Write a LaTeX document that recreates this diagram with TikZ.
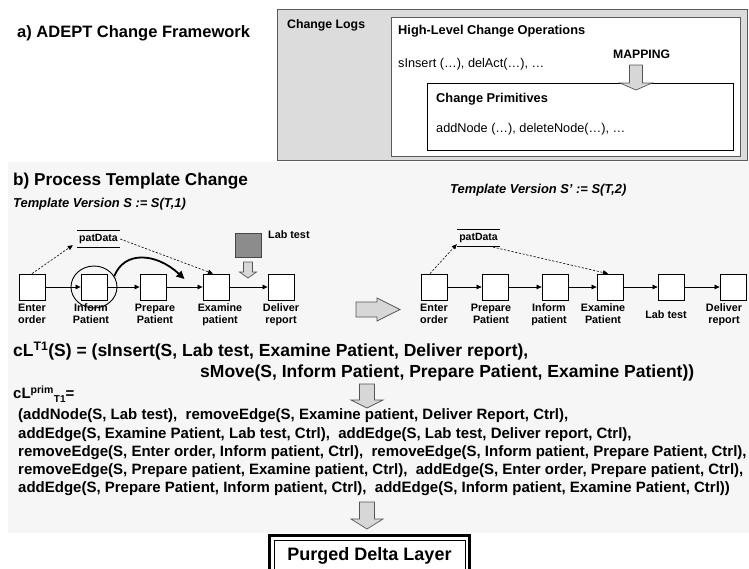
\documentclass[tikz,border=0pt]{standalone}
\usepackage{fontspec}
\setmainfont{Liberation Sans}
\usetikzlibrary{calc,arrows.meta,shapes.geometric}

\definecolor{logsfill}{RGB}{220,220,220}
\definecolor{logsedge}{RGB}{90,90,90}
\definecolor{panelfill}{RGB}{246,246,246}
\definecolor{blkfill}{RGB}{215,215,215}
\definecolor{blkedge}{RGB}{85,85,85}
\definecolor{labfill}{RGB}{140,140,140}
\definecolor{labedge}{RGB}{70,70,70}

\newcommand\fsz[2]{\fontsize{#1}{#2}\selectfont}
% block arrow pointing down: tip x, tip y, length, shaft half width, head half width, head length
\newcommand\downblock[6]{%
  \draw[blk] (#1-#4,#2-#3) -- (#1+#4,#2-#3) -- (#1+#4,#2-#6) -- (#1+#5,#2-#6)
    -- (#1,#2) -- (#1-#5,#2-#6) -- (#1-#4,#2-#6) -- cycle;}
% block arrow pointing right: tip x, tip y, length, shaft half width, head half width, head length
\newcommand\rightblock[6]{%
  \draw[blk] (#1-#3,#2-#4) -- (#1-#6,#2-#4) -- (#1-#6,#2-#5) -- (#1,#2)
    -- (#1-#6,#2+#5) -- (#1-#6,#2+#4) -- (#1-#3,#2+#4) -- cycle;}

\begin{document}
\begin{tikzpicture}[x=1pt,y=-1pt,
  task/.style={draw=black, line width=0.8pt, fill=white, minimum width=26pt,
    minimum height=26pt, inner sep=0pt},
  lbl/.style={font=\bfseries\fsz{10.8}{12}, align=center, inner sep=0pt},
  flow/.style={-{Triangle[length=5pt,width=4.5pt]}, line width=0.7pt},
  dflow/.style={-{Triangle[length=5pt,width=4.5pt]}, line width=0.6pt,
    dash pattern=on 2.2pt off 1.6pt},
  blk/.style={fill=blkfill, draw=blkedge, line width=0.7pt, line join=miter},
  txt/.style={anchor=base west, inner sep=0pt},
  code/.style={txt, font=\bfseries\fsz{15}{18}},
  data/.style={font=\bfseries\fsz{10.5}{12}, minimum width=43pt,
    minimum height=16pt, inner sep=0pt},
  label distance=3pt]
\useasboundingbox (0,0) rectangle (749,568);

% ---------------- a) change framework ----------------
\node[txt, font=\bfseries\fsz{16.5}{18}] (ta) at (17,37) {a) ADEPT Change Framework};

\draw[fill=logsfill, draw=logsedge, line width=1pt] (277,9) rectangle (747.5,160);
\draw[fill=white, draw=logsedge, line width=0.8pt] (391,17) rectangle (740,156);
\draw[fill=white, draw=black, line width=0.8pt] (427,83) rectangle (733,150);

\node[txt, font=\bfseries\fsz{12.3}{14}] (logs) at (287,28) {Change Logs};
\node[txt, font=\bfseries\fsz{12.8}{14}] (hl) at (398,34) {High-Level Change Operations};
\node[txt, font=\fsz{12.7}{14}] (hlops) at (398,67) {sInsert (…), delAct(…), …};
\node[txt, font=\bfseries\fsz{12.2}{14}] (map) at (613,58) {MAPPING};
\node[txt, font=\bfseries\fsz{12.8}{14}] (cp) at (436,102) {Change Primitives};
\node[txt, font=\fsz{12.7}{14}] (cpops) at (436,132) {addNode (…), deleteNode(…), …};
\downblock{636}{90}{25}{6.5}{16}{7}

% ---------------- b) template change ----------------
\fill[panelfill] (8,162) rectangle (749,533);

\node[txt, font=\bfseries\fsz{17.2}{19}] (tb) at (13,185) {b) Process Template Change};
\node[txt, font=\bfseries\itshape\fsz{12.9}{14}] (v1) at (13,207) {Template Version S := S(T,1)};
\node[txt, font=\bfseries\itshape\fsz{12.9}{14}] (v2) at (450,193) {Template Version S’ := S(T,2)};

% template version S
\node[task, label={[lbl]below:Enter\\order}] (e1) at (32,287) {};
\node[task, label={[lbl,xshift=-3pt]below:Inform\\Patient}] (i1) at (94,287) {};
\node[task, label={[lbl,xshift=2pt]below:Prepare\\Patient}] (p1) at (153,287) {};
\node[task, label={[lbl,xshift=4pt]below:Examine\\patient}] (x1) at (216,287) {};
\node[task, label={[lbl]below:Deliver\\report}] (d1) at (281,287) {};
\draw[flow] (e1) -- (i1);
\draw[flow] (i1) -- (p1);
\draw[flow] (p1) -- (x1);
\draw[flow] (x1) -- (d1);

\node[data] (pd1) at (98.5,239) {patData};
\draw[line width=0.8pt] (pd1.north west) -- (pd1.north east)
  (pd1.south west) -- (pd1.south east);
\draw[dflow] (e1.north) -- ($(pd1.south west)+(-4,-2)$);
\draw[dflow] (pd1.east) -- ($(x1.north)+(-3,0)$);

\node[draw, ellipse, line width=0.9pt, minimum width=46pt, minimum height=42pt,
  inner sep=0pt] (sel) at (94,287) {};
\coordinate (ins) at ($(p1.east)!0.5!(x1.west)+(0,-8)$);
\draw[line width=1.8pt, -{Triangle[length=8pt,width=7.5pt]}]
  (sel.28) .. controls +(10,-26) and +(-28,-26) .. (ins);

\node[draw=labedge, fill=labfill, line width=0.8pt, minimum width=26pt,
  minimum height=24pt, inner sep=0pt] (lab) at (248.5,245) {};
\node[lbl, anchor=west] (labt) at (268,235) {Lab test};
\downblock{248}{278}{16}{4.5}{8.5}{6}

% arrow from S to S'
\rightblock{400}{309.5}{44}{7.5}{11.5}{23}

% template version S'
\node[task, label={[lbl]below:Enter\\order}] (e2) at (434,287) {};
\node[task, label={[lbl,xshift=-4pt]below:Prepare\\Patient}] (p2) at (495,287) {};
\node[task, label={[lbl,xshift=-6pt]below:Inform\\patient}] (i2) at (555,287) {};
\node[task, label={[lbl,xshift=-7pt]below:Examine\\Patient}] (x2) at (610,287) {};
\node[task, label={[lbl,xshift=-5pt,yshift=-7pt]below:Lab test}] (l2) at (671,287) {};
\node[task, label={[lbl,xshift=-9pt]below:Deliver\\report}] (d2) at (733,287) {};
\draw[flow] (e2) -- (p2);
\draw[flow] (p2) -- (i2);
\draw[flow] (i2) -- (x2);
\draw[flow] (x2) -- (l2);
\draw[flow] (l2) -- (d2);

\node[data] (pd2) at (478.5,238) {patData};
\draw[line width=0.8pt] (pd2.north west) -- (pd2.north east)
  (pd2.south west) -- (pd2.south east);
\draw[dflow] ($(e2.north)+(-4,0)$) -- ($(pd2.south west)+(0,-2)$);
\draw[dflow] ($(pd2.south east)+(-11,0)$) -- ($(x2.north)+(-2,0)$);

% change logs
\node[txt, font=\bfseries\fsz{17.5}{20}] (cl1) at (13,356.5)
  {cL\textsuperscript{T1}(S) = (sInsert(S, Lab test, Examine Patient, Deliver report),};
\node[txt, font=\bfseries\fsz{17.5}{20}] (cl2) at (200,377.5)
  {sMove(S, Inform Patient, Prepare Patient, Examine Patient))};
\downblock{367}{408}{24}{7.5}{16}{8}

\node[code] (pr0) at (13,398.5)
  {cL\textsuperscript{prim}\raisebox{-0.45ex}{\fsz{10}{10}T1}=};
\node[code] (pr1) at (18,419.5)
  {(addNode(S, Lab test),\ \ removeEdge(S, Examine patient, Deliver Report, Ctrl),};
\node[code] (pr2) at (18,438)
  {addEdge(S, Examine Patient, Lab test, Ctrl),\ \ addEdge(S, Lab test, Deliver report, Ctrl),};
\node[code] (pr3) at (18,456.5)
  {removeEdge(S, Enter order, Inform patient, Ctrl),\ \ removeEdge(S, Inform patient, Prepare Patient, Ctrl),};
\node[code] (pr4) at (18,474.5)
  {removeEdge(S, Prepare patient, Examine patient, Ctrl),\ \ addEdge(S, Enter order, Prepare patient, Ctrl),};
\node[code] (pr5) at (18,492.5)
  {addEdge(S, Prepare Patient, Inform patient, Ctrl),\ \ addEdge(S, Inform patient, Examine Patient, Ctrl))};
\downblock{367}{529}{27}{7.5}{16}{10}

% purged delta layer
\draw[line width=2.5pt] (269.5,535.5) rectangle (469.5,575);
\draw[line width=0.8pt] (274,540) rectangle (465,575);
\node[font=\bfseries\fsz{18}{20}, inner sep=0pt] (pdl) at (369.5,556) {Purged Delta Layer};
\end{tikzpicture}
\end{document}
